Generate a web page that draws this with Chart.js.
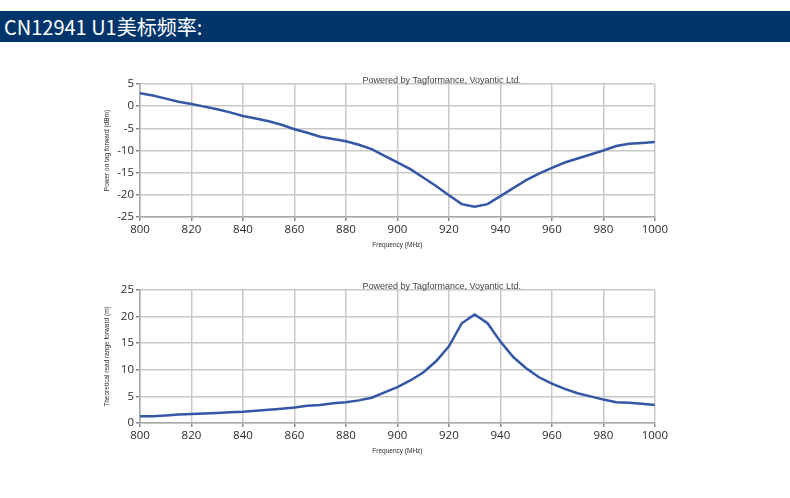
<!DOCTYPE html>
<html>
<head>
<meta charset="utf-8">
<script src="https://cdn.jsdelivr.net/npm/chart.js@4.4.0/dist/chart.umd.min.js"></script>
<style>
    body { margin: 0; background: #fff; width: 790px; height: 498px; position: relative; overflow: hidden; }
    .header {
        position: absolute; left: 0; top: 11px; width: 790px; height: 31px;
        background: #00356b; color: #fff;
        font-family: "Noto Sans CJK SC", "Open Sans", sans-serif; font-size: 20px;
        line-height: 31px; padding-left: 4px; box-sizing: border-box;
    }
    .box { position: absolute; left: 95px; width: 575px; height: 185px; }
    #top { top: 70px; }
    #bottom { top: 276px; }
</style>
</head>
<body>
<div class="header">CN12941 U1美标频率:</div>
<div class="box" id="top"><canvas id="powerChart"></canvas></div>
<div class="box" id="bottom"><canvas id="rangeChart"></canvas></div>
<script>
const frequencies = [800, 805, 810, 815, 820, 825, 830, 835, 840, 845, 850, 855, 860, 865, 870, 875, 880, 885, 890, 895,
    900, 905, 910, 915, 920, 925, 930, 935, 940, 945, 950, 955, 960, 965, 970, 975, 980, 985, 990, 995, 1000];

const powerForward = [2.9, 2.4, 1.7, 1.0, 0.5, -0.1, -0.7, -1.4, -2.2, -2.8, -3.4, -4.2, -5.2, -6.0, -6.9, -7.4, -7.9, -8.7, -9.7, -11.2,
    -12.7, -14.2, -16.1, -18.0, -20.1, -22.1, -22.7, -22.1, -20.3, -18.5, -16.7, -15.2, -13.9, -12.7, -11.8, -10.9, -10.0, -9.0, -8.5, -8.3, -8.1];

const readRange = [1.25, 1.25, 1.4, 1.6, 1.7, 1.8, 1.9, 2.0, 2.1, 2.3, 2.5, 2.7, 2.9, 3.25, 3.4, 3.7, 3.9, 4.25, 4.75, 5.75,
    6.75, 8.0, 9.5, 11.6, 14.4, 18.75, 20.4, 18.75, 15.3, 12.4, 10.3, 8.6, 7.4, 6.4, 5.6, 5.0, 4.4, 3.9, 3.8, 3.6, 3.4];

const xTicks = [800, 820, 840, 860, 880, 900, 920, 940, 960, 980, 1000];
const powerTicks = [5, 0, -5, -10, -15, -20, -25];
const rangeTicks = [25, 20, 15, 10, 5, 0];

const creditText = 'Powered by Tagformance, Voyantic Ltd.';

const lineColor = '#3457a6';
const gridColor = '#c8c8c8';
const textColor = '#2b2b2b';

// small label above the plot frame, like the Tagformance export
const creditPlugin = {
    id: 'credit',
    afterDraw(chart) {
        const {ctx, chartArea} = chart;
        ctx.save();
        ctx.font = '9px "Liberation Sans", sans-serif';
        ctx.fillStyle = '#444';
        ctx.textAlign = 'left';
        ctx.textBaseline = 'bottom';
        ctx.fillText(creditText, chartArea.left + 0.432 * (chartArea.right - chartArea.left), chartArea.top + 1);
        ctx.restore();
    }
};

const makeChart = (canvas, values, yMin, yMax, yTicks, yTitle) => {
    return new Chart(canvas.getContext('2d'), {
        type: 'line',
        data: {
            datasets: [
                {
                    data: frequencies.map((f, i) => ({x: f, y: values[i]})),
                    borderColor: lineColor,
                    borderWidth: 2.5,
                    pointRadius: 0,
                    tension: 0,
                    fill: false,
                },
            ],
        },
        options: {
            scales: {
                x: {
                    type: 'linear',
                    min: 800,
                    max: 1000,
                    afterBuildTicks: (scale) => { scale.ticks = xTicks.map(v => ({value: v})); },
                    afterFit: (scale) => { scale.height = 38; },
                    border: { color: '#a8a8a8', width: 1.5 },
                    grid: { color: gridColor, lineWidth: 1.5, tickLength: 4, tickColor: '#888' },
                    ticks: {
                        color: textColor,
                        padding: 2,
                        maxRotation: 0,
                        callback: (value) => String(value),
                        font: { family: '"Open Sans", sans-serif', size: 11.5 },
                    },
                    title: {
                        display: true,
                        text: 'Frequency (MHz)',
                        color: textColor,
                        padding: { top: 0, bottom: 6 },
                        font: { family: '"Liberation Sans", sans-serif', size: 6.5 },
                    },
                },
                y: {
                    min: yMin,
                    max: yMax,
                    afterBuildTicks: (scale) => { scale.ticks = yTicks.map(v => ({value: v})); },
                    afterFit: (scale) => { scale.width = 45; },
                    border: { color: '#a8a8a8', width: 1.5 },
                    grid: { color: gridColor, lineWidth: 1.5, tickLength: 4, tickColor: '#888' },
                    ticks: {
                        color: textColor,
                        padding: 2,
                        font: { family: '"Open Sans", sans-serif', size: 11.5 },
                    },
                    title: {
                        display: true,
                        text: yTitle,
                        color: textColor,
                        padding: { top: 8, bottom: 0 },
                        font: { family: '"Liberation Sans", sans-serif', size: 6.5 },
                    },
                },
            },
            layout: {
                padding: { top: 14, bottom: 0, left: 0, right: 4 },
            },
            plugins: {
                legend: { display: false },
                tooltip: { enabled: false },
            },
            animation: { duration: 0 },
            maintainAspectRatio: false,
            responsive: true,
        },
        plugins: [creditPlugin],
    });
};

makeChart(document.getElementById('powerChart'), powerForward, -25, 5, powerTicks, 'Power on tag forward (dBm)');
makeChart(document.getElementById('rangeChart'), readRange, 0, 25, rangeTicks, 'Theoretical read range forward (m)');
</script>
</body>
</html>
